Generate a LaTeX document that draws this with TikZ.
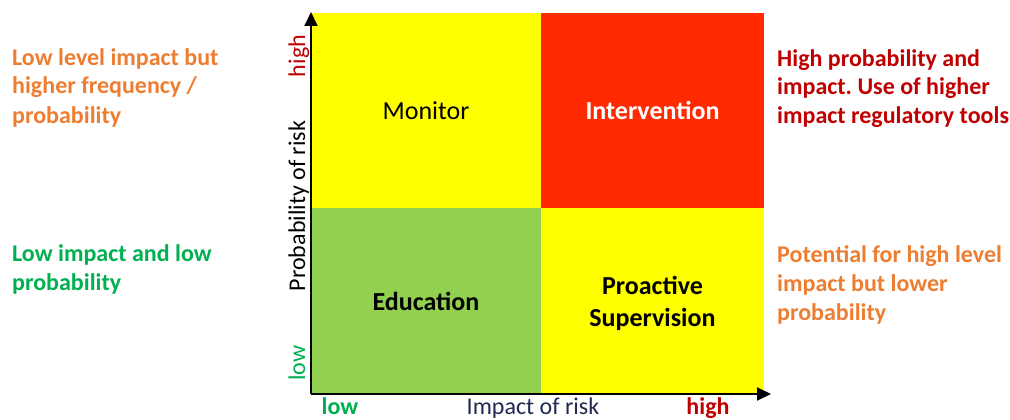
\documentclass[tikz,border=0pt]{standalone}
\usepackage{fontspec}
\setmainfont{Carlito}
\usetikzlibrary{arrows.meta}
\frenchspacing
\definecolor{qyellow}{HTML}{FFFF00}
\definecolor{qred}{HTML}{FF2A00}
\definecolor{qgreen}{HTML}{92D050}
\definecolor{torange}{HTML}{ED7D31}
\definecolor{tred}{HTML}{C00000}
\definecolor{tgreen}{HTML}{00B050}
\definecolor{tnavy}{HTML}{1F2A50}
\tikzset{
  quad/.style={inner sep=0pt, outer sep=0pt, align=center, font=\fontsize{26}{32}\selectfont},
  side/.style={inner sep=0pt, anchor=base west, align=left, font=\fontsize{24}{29}\selectfont\bfseries},
  axlabel/.style={inner sep=0pt, anchor=base, font=\fontsize{24}{29}\selectfont},
  axisline/.style={line width=2pt, -{Triangle[length=14pt,width=13pt]}}
}
\begin{document}
\begin{tikzpicture}[x=1pt,y=-1pt]
\useasboundingbox (0,0) rectangle (1010,420);
% quadrants
\node[quad, fill=qyellow, minimum width=230pt, minimum height=195pt] (mon) at (426,110.5) {Monitor};
\node[quad, fill=qred, minimum width=223pt, minimum height=195pt, text=white, font=\fontsize{26}{32}\selectfont\bfseries] (int) at (652.5,110.5) {Intervention};
\node[quad, fill=qgreen, minimum width=230pt, minimum height=186pt, font=\fontsize{26}{32}\selectfont\bfseries] (edu) at (426,301) {Education};
\node[quad, fill=qyellow, minimum width=223pt, minimum height=186pt, font=\fontsize{26}{32}\selectfont\bfseries] (pro) at (652.5,301) {};
\node[quad, font=\fontsize{26}{32}\selectfont\bfseries] (protext) at (652.5,303) {Proactive\\Supervision};
% axes
\coordinate (origin) at (311,394);
\coordinate (ytip) at (311,12);
\coordinate (xtip) at (771,394);
\draw[axisline] (origin) -- (ytip);
\draw[axisline] (origin) -- (xtip);
% axis labels
\node[axlabel, rotate=90, text=tred] (yhigh) at (305,56) {high};
\node[axlabel, rotate=90] (ylab) at (305,206) {Probability of risk};
\node[axlabel, rotate=90, text=tgreen] (ylow) at (305,363) {low};
\node[axlabel, text=tgreen, font=\fontsize{24}{29}\selectfont\bfseries] (xlow) at (340,414) {low};
\node[axlabel, text=tnavy] (xlab) at (533,414) {Impact of risk};
\node[axlabel, text=tred, font=\fontsize{24}{29}\selectfont\bfseries] (xhigh) at (708,414) {high};
% side texts (anchored at the baseline of the last line)
\node[side, text=torange] (tl) at (12,123) {Low level impact but\\higher frequency /\\probability};
\node[side, text=tgreen] (bl) at (12,290) {Low impact and low\\probability};
\node[side, text=tred] (tr) at (777,124) {High probability and\\impact. Use of higher\\impact regulatory tools};
\node[side, text=torange] (br) at (777,320) {Potential for high level\\impact but lower\\probability};
\end{tikzpicture}
\end{document}
